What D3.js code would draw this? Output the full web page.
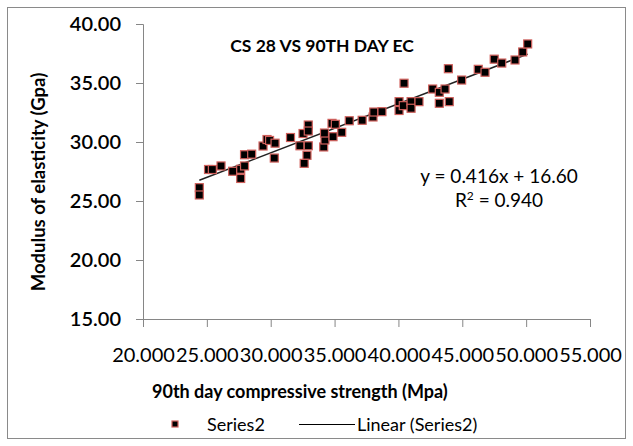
<!DOCTYPE html>
<head>
    <title>CS 28 VS 90TH DAY EC</title>
    <script src="https://cdn.jsdelivr.net/npm/d3@7/dist/d3.min.js"></script>
    <style>
        body { margin: 0; background: #fff; }
        text { font-family: Lato, "Open Sans", sans-serif; fill: #000; }
    </style>
</head>
<body>
<div id="container"></div>
<script>

    // Data
    const strength = [24.41, 24.41, 25.13, 25.43, 26.11, 27.02, 27.65, 27.65, 27.95, 27.95,
        28.51, 29.40, 29.71, 29.91, 30.34, 30.28, 31.55, 32.29, 32.53, 32.94,
        32.94, 32.94, 32.84, 32.62, 34.15, 34.25, 34.21, 34.80, 35.06, 34.88,
        35.56, 36.15, 37.16, 38.01, 38.07, 38.71, 40.05, 40.05, 40.44, 40.38,
        40.99, 40.99, 41.61, 42.68, 43.20, 43.65, 43.20, 43.98, 43.91, 44.95,
        46.25, 46.78, 47.50, 48.09, 49.13, 49.73, 50.12];
    const modulus = [26.13, 25.51, 27.67, 27.67, 27.97, 27.52, 27.69, 26.91, 27.97, 28.92,
        28.97, 29.66, 30.21, 30.13, 29.90, 28.64, 30.38, 29.68, 30.72, 31.44,
        30.93, 29.68, 28.87, 28.19, 29.58, 30.17, 30.76, 31.58, 31.50, 30.45,
        30.82, 31.80, 31.84, 32.12, 32.54, 32.57, 33.42, 32.67, 34.98, 33.08,
        33.42, 32.86, 33.42, 34.49, 34.21, 34.49, 33.28, 33.42, 36.21, 35.25,
        36.16, 35.91, 37.02, 36.69, 36.95, 37.63, 38.31];

    // Trendline coefficients (as shown on the chart)
    const slope = 0.416;
    const intercept = 16.60;

    const xTicks = [20, 25, 30, 35, 40, 45, 50, 55];
    const yTicks = [15, 20, 25, 30, 35, 40];

    const width = 633;
    const height = 446;

    const svg = d3.select("#container")
        .append("svg")
        .attr("width", width)
        .attr("height", height);

    // Chart border
    svg.append("rect")
        .attr("x", 7.5)
        .attr("y", 7.5)
        .attr("width", 618)
        .attr("height", 431)
        .attr("fill", "#fff")
        .attr("stroke", "#8a8a8a")
        .attr("stroke-width", 1);

    const x = d3.scaleLinear().domain([20, 55]).range([143, 590]);
    const y = d3.scaleLinear().domain([15, 40]).range([319, 24]);

    // Axes
    const xAxis = svg.append("g")
        .attr("transform", `translate(0, ${y(15)})`)
        .call(d3.axisBottom(x).tickValues(xTicks).tickSize(8).tickFormat(d3.format(".3f")));
    xAxis.selectAll("text")
        .attr("dy", "1.6em")
        .style("font-size", "20px");

    const yAxis = svg.append("g")
        .attr("transform", `translate(${x(20)}, 0)`)
        .call(d3.axisLeft(y).tickValues(yTicks).tickSize(7).tickFormat(d3.format(".2f")));
    yAxis.selectAll("text")
        .attr("x", -22)
        .style("font-size", "20px")
        .style("font-weight", "600");

    svg.selectAll(".domain, .tick line")
        .attr("stroke", "#868686");

    // Trendline
    const xMin = d3.min(strength), xMax = d3.max(strength);
    svg.append("line")
        .attr("x1", x(xMin))
        .attr("y1", y(slope * xMin + intercept))
        .attr("x2", x(xMax))
        .attr("y2", y(slope * xMax + intercept))
        .attr("stroke", "#222")
        .attr("stroke-width", 1.5);

    // Points
    svg.selectAll(".pt")
        .data(strength.map((d, i) => [d, modulus[i]]))
        .enter()
        .append("rect")
        .attr("class", "pt")
        .attr("x", d => x(d[0]) - 4)
        .attr("y", d => y(d[1]) - 4)
        .attr("width", 8)
        .attr("height", 8)
        .attr("fill", "#000")
        .attr("stroke", "#d0605c")
        .attr("stroke-width", 1.2);

    // Title
    svg.append("text")
        .attr("x", 322)
        .attr("y", 52)
        .attr("text-anchor", "middle")
        .style("font-size", "17.5px")
        .style("font-weight", "bold")
        .text("CS 28 VS 90TH DAY EC");

    // Equation
    svg.append("text")
        .attr("x", 499)
        .attr("y", 183)
        .attr("text-anchor", "middle")
        .style("font-size", "19px")
        .text("y = 0.416x + 16.60");

    const r2 = svg.append("text")
        .attr("x", 499)
        .attr("y", 207)
        .attr("text-anchor", "middle")
        .style("font-size", "19px");
    r2.append("tspan").text("R");
    r2.append("tspan").attr("dy", -7).style("font-size", "12px").text("2");
    r2.append("tspan").attr("dy", 7).text(" = 0.940");

    // Axis titles
    svg.append("text")
        .attr("x", 152)
        .attr("y", 398)
        .style("font-size", "18px")
        .style("font-weight", "bold")
        .text("90th day compressive strength (Mpa)");

    svg.append("text")
        .attr("transform", `translate(45, 182) rotate(-90)`)
        .attr("text-anchor", "middle")
        .style("font-size", "18.5px")
        .style("font-weight", "bold")
        .text("Modulus of elasticity (Gpa)");

    // Legend
    svg.append("rect")
        .attr("x", 172)
        .attr("y", 421)
        .attr("width", 6)
        .attr("height", 6)
        .attr("fill", "#000")
        .attr("stroke", "#d0605c")
        .attr("stroke-width", 1.2);
    svg.append("text")
        .attr("x", 207)
        .attr("y", 431)
        .style("font-size", "18px")
        .text("Series2");
    svg.append("line")
        .attr("x1", 299)
        .attr("x2", 355)
        .attr("y1", 424.5)
        .attr("y2", 424.5)
        .attr("stroke", "#000")
        .attr("stroke-width", 1);
    svg.append("text")
        .attr("x", 357)
        .attr("y", 431)
        .style("font-size", "18px")
        .text("Linear (Series2)");

</script>
</body>
